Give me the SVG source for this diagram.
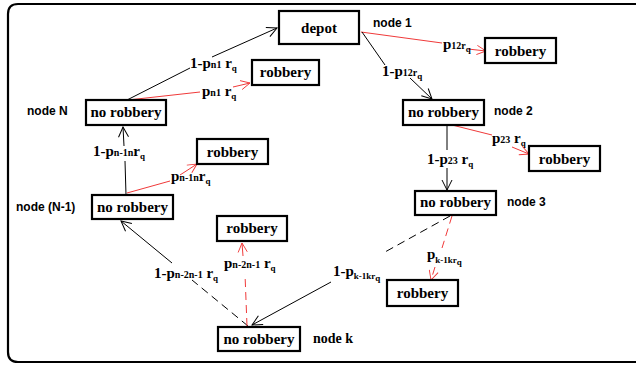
<svg xmlns="http://www.w3.org/2000/svg" width="636" height="366" viewBox="0 0 636 366">
  <style>
    .box { fill: #fff; stroke: #000; stroke-width: 2.2; }
    .bt { font-family: "Liberation Serif", "Times New Roman", serif; font-weight: bold; font-size: 15px; fill: #000; text-anchor: middle; }
    .nl { font-family: "Liberation Sans", Arial, sans-serif; font-weight: bold; font-size: 12px; fill: #000; }
    .nk { font-family: "Liberation Serif", "Times New Roman", serif; font-weight: bold; font-size: 14px; fill: #000; }
    .lb { font-family: "Liberation Serif", "Times New Roman", serif; font-weight: bold; font-size: 15px; fill: #000; }
    .s { font-size: 10px; }
    .ss { font-size: 9px; }
    .k { stroke: #000; stroke-width: 1; fill: none; }
    .r { stroke: #f03a3a; stroke-width: 1; fill: none; }
    .dash { stroke-dasharray: 8 5; }
  </style>
  <defs>
    <marker id="ak" viewBox="0 0 12 12" refX="11" refY="6" markerWidth="12" markerHeight="12" orient="auto" markerUnits="userSpaceOnUse">
      <path d="M1,1 L11,6 L1,11" fill="none" stroke="#000" stroke-width="1"/>
    </marker>
    <marker id="ar" viewBox="0 0 12 12" refX="11" refY="6" markerWidth="11" markerHeight="11" orient="auto" markerUnits="userSpaceOnUse">
      <path d="M1,1 L11,6 L1,11" fill="none" stroke="#f03a3a" stroke-width="1"/>
    </marker>
  </defs>

  <!-- outer frame, open on the right -->
  <path d="M640,4 L18,4 Q8,4 8,14 L8,352 Q8,362 18,362 L640,362" fill="none" stroke="#000" stroke-width="2.2"/>

  <!-- connectors -->
  <g id="connectors">
    <!-- node N -> depot -->
    <path class="k" d="M127,100 L190,68"/>
    <path class="k" d="M212,57 L277,28" marker-end="url(#ak)"/>
    <!-- node N -> robbery -->
    <path class="r" d="M128,100 L200,92"/>
    <path class="r" d="M233,87 L250,83" marker-end="url(#ar)"/>
    <!-- depot -> robbery -->
    <path class="r" d="M361,32 L442,43"/>
    <path class="r" d="M468,49 L486,51" marker-end="url(#ar)"/>
    <!-- depot -> node 2 -->
    <path class="k" d="M362,32 L385,65"/>
    <path class="k" d="M410,78 L432,99" marker-end="url(#ak)"/>
    <!-- node 2 -> robbery -->
    <path class="r" d="M448,124 L492,135"/>
    <path class="r" d="M512,147 L529,154" marker-end="url(#ar)"/>
    <!-- node 2 -> node 3 -->
    <path class="k" d="M447,125 L447,150"/>
    <path class="k" d="M447,168 L447,190" marker-end="url(#ak)"/>
    <!-- node (N-1) -> node N -->
    <path class="k" d="M126,195 L125,161"/>
    <path class="k" d="M124,146 L123,127" marker-end="url(#ak)"/>
    <!-- node (N-1) -> robbery -->
    <path class="r" d="M127,193 L170,181"/>
    <path class="r" d="M180,175 L197,164" marker-end="url(#ar)"/>
    <!-- node k -> node (N-1) -->
    <path class="k dash" d="M248,326 L192,280"/>
    <path class="k" d="M172,263 L121,221" marker-end="url(#ak)"/>
    <!-- node k -> robbery -->
    <path class="r dash" d="M247,326 L245,274"/>
    <path class="r" d="M243,256 L242,243" marker-end="url(#ar)"/>
    <!-- node 3 -> node k -->
    <path class="k dash" d="M450,216 L385,252"/>
    <path class="k" d="M331,282 L252,325" marker-end="url(#ak)"/>
    <!-- node 3 -> robbery -->
    <path class="r dash" d="M452,216 L442,248"/>
    <path class="r dash" d="M435,267 L431,280" marker-end="url(#ar)"/>
  </g>

  <!-- connector labels -->
  <g id="labels">
    <text class="lb" x="190" y="68">1-p<tspan class="s">n1</tspan> r<tspan class="ss" dy="3">q</tspan></text>
    <text class="lb" x="202" y="96">p<tspan class="s">n1</tspan> r<tspan class="ss" dy="3">q</tspan></text>
    <text class="lb" x="443" y="49">p<tspan class="s">12r</tspan><tspan class="ss" dy="3">q</tspan></text>
    <text class="lb" x="382" y="76">1-p<tspan class="s">12r</tspan><tspan class="ss" dy="3">q</tspan></text>
    <text class="lb" x="492" y="143">p<tspan class="s">23</tspan> r<tspan class="ss" dy="3">q</tspan></text>
    <text class="lb" x="427" y="164">1-p<tspan class="s">23</tspan> r<tspan class="ss" dy="3">q</tspan></text>
    <text class="lb" x="93" y="156">1-p<tspan class="s">n-1n</tspan>r<tspan class="ss" dy="3">q</tspan></text>
    <text class="lb" x="171" y="181">p<tspan class="s">n-1n</tspan>r<tspan class="ss" dy="3">q</tspan></text>
    <text class="lb" x="154" y="278">1-p<tspan class="s">n-2n-1</tspan> r<tspan class="ss" dy="3">q</tspan></text>
    <text class="lb" x="224" y="268">p<tspan class="s">n-2n-1</tspan> r<tspan class="ss" dy="3">q</tspan></text>
    <text class="lb" x="333" y="276">1-p<tspan class="ss" dy="3">k-1kr</tspan><tspan class="ss" dy="2">q</tspan></text>
    <text class="lb" x="427" y="259">p<tspan class="ss" dy="4">k-1kr</tspan><tspan class="ss" dy="2">q</tspan></text>
  </g>

  <!-- nodes -->
  <g id="depot">
    <rect class="box" x="279" y="11" width="80" height="33"/>
    <text class="bt" x="319" y="33">depot</text>
    <text class="nl" x="373" y="27">node 1</text>
  </g>
  <g id="robbery-1">
    <rect class="box" x="485" y="38" width="71" height="25"/>
    <text class="bt" x="520.5" y="56">robbery</text>
  </g>
  <g id="robbery-n">
    <rect class="box" x="252" y="60" width="67" height="25"/>
    <text class="bt" x="285.5" y="77">robbery</text>
  </g>
  <g id="node-n">
    <rect class="box" x="86" y="100" width="80" height="25"/>
    <text class="bt" x="126" y="117">no robbery</text>
    <text class="nl" x="27" y="115">node N</text>
  </g>
  <g id="node-2">
    <rect class="box" x="403" y="100" width="81" height="25"/>
    <text class="bt" x="443.5" y="117">no robbery</text>
    <text class="nl" x="494" y="115">node 2</text>
  </g>
  <g id="robbery-2">
    <rect class="box" x="529" y="146" width="71" height="25"/>
    <text class="bt" x="564.5" y="164">robbery</text>
  </g>
  <g id="robbery-n1">
    <rect class="box" x="197" y="139" width="71" height="25"/>
    <text class="bt" x="232.5" y="157">robbery</text>
  </g>
  <g id="node-n1">
    <rect class="box" x="92" y="195" width="81" height="24"/>
    <text class="bt" x="132.5" y="212">no robbery</text>
    <text class="nl" x="16" y="211">node (N-1)</text>
  </g>
  <g id="robbery-n2">
    <rect class="box" x="217" y="216" width="70" height="25"/>
    <text class="bt" x="252" y="233">robbery</text>
  </g>
  <g id="node-3">
    <rect class="box" x="415" y="191" width="81" height="24"/>
    <text class="bt" x="455.5" y="207">no robbery</text>
    <text class="nl" x="507" y="206">node 3</text>
  </g>
  <g id="robbery-k">
    <rect class="box" x="387" y="280" width="71" height="26"/>
    <text class="bt" x="422.5" y="298">robbery</text>
  </g>
  <g id="node-k">
    <rect class="box" x="218" y="327" width="82" height="24"/>
    <text class="bt" x="259" y="344">no robbery</text>
    <text class="nk" x="313" y="343">node k</text>
  </g>
</svg>
